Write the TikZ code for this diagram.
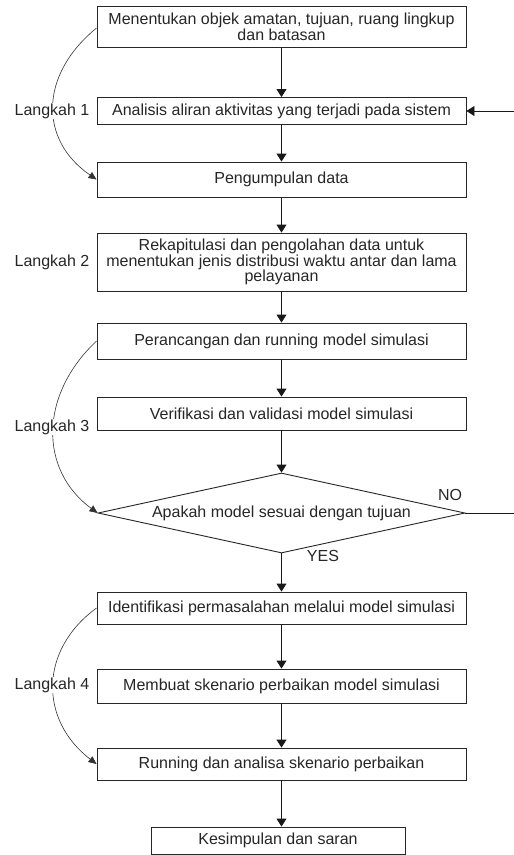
\documentclass[tikz,border=0pt]{standalone}
\usepackage{fontspec}
\setmainfont{Liberation Sans}
\usetikzlibrary{shapes.geometric,arrows.meta}
\begin{document}
\begin{tikzpicture}[x=1pt,y=-1pt,
  font=\fontsize{16}{15.5}\selectfont,
  stepbox/.style={draw=black!85,line width=0.9pt,minimum width=369,inner sep=0pt,align=center,text=black!85},
  decision/.style={draw=black!85,line width=0.9pt,diamond,aspect=4.6,inner sep=0pt,minimum width=367,minimum height=80,text=black!85},
  flow/.style={draw=black!90,line width=0.9pt,-{Triangle[width=10pt,length=8pt]}},
  bracket/.style={draw=black!80,line width=0.6pt,-{Triangle[width=7pt,length=8pt]}},
  steplabel/.style={fill=white,inner sep=1pt,text=black!85},
  answer/.style={text=black!85,inner sep=0pt}]
\useasboundingbox (0,0) rectangle (514,855);
\clip (0,0) rectangle (514,855);
\fill[white] (0,0) rectangle (514,855);

% process boxes
\node[stepbox,minimum height=41] (b1) at (281.5,27) {Menentukan objek amatan, tujuan, ruang lingkup\\dan batasan};
\node[stepbox,minimum height=27] (b2) at (281.5,111) {Analisis aliran aktivitas yang terjadi pada sistem};
\node[stepbox,minimum height=35] (b3) at (281.5,179.5) {Pengumpulan data};
\node[stepbox,minimum height=58] (b4) at (281.5,262) {Rekapitulasi dan pengolahan data untuk\\menentukan jenis distribusi waktu antar dan lama\\pelayanan};
\node[stepbox,minimum height=36] (b5) at (281.5,341) {Perancangan dan running model simulasi};
\node[stepbox,minimum height=33] (b6) at (281.5,413.5) {Verifikasi dan validasi model simulasi};
\node[decision] (d) at (281.5,513) {Apakah model sesuai dengan tujuan};
\node[stepbox,minimum height=32] (b7) at (281.5,608) {Identifikasi permasalahan melalui model simulasi};
\node[stepbox,minimum height=34] (b8) at (281.5,686) {Membuat skenario perbaikan model simulasi};
\node[stepbox,minimum height=32] (b9) at (281.5,764) {Running dan analisa skenario perbaikan};
\node[stepbox,minimum width=254,minimum height=27] (b10) at (278,840.5) {Kesimpulan dan saran};

% main flow
\draw[flow] (b1.south) -- (b2.north);
\draw[flow] (b2.south) -- (b3.north);
\draw[flow] (b3.south) -- (b4.north);
\draw[flow] (b4.south) -- (b5.north);
\draw[flow] (b5.south) -- (b6.north);
\draw[flow] (b6.south) -- (d.north);
\draw[flow] (d.south) -- (b7.north);
\draw[flow] (b7.south) -- (b8.north);
\draw[flow] (b8.south) -- (b9.north);
\draw[flow] (b9.south) -- (b9.south |- b10.north);

% NO branch back to the activity analysis
\coordinate (loopa) at (522,513);
\coordinate (loopb) at (522,111);
\draw[flow] (d.east) -- (loopa) -- (loopb) -- (b2.east);
\node[answer] (no) at (450,495) {NO};
\node[answer] (yes) at (323,556) {YES};

% step brackets
\draw[bracket] (b1.west |- 0,28) .. controls (39,75) and (39,140) .. (b3.west);
\draw[bracket] (b5.west) .. controls (39,395) and (39,470) .. (d.west);
\draw[bracket] (b7.west) .. controls (39,650) and (39,720) .. (b9.west);

\node[steplabel] (l1) at (52,111) {Langkah 1};
\node[steplabel] (l2) at (52,262) {Langkah 2};
\node[steplabel] (l3) at (52,427) {Langkah 3};
\node[steplabel] (l4) at (52,685) {Langkah 4};
\end{tikzpicture}
\end{document}
